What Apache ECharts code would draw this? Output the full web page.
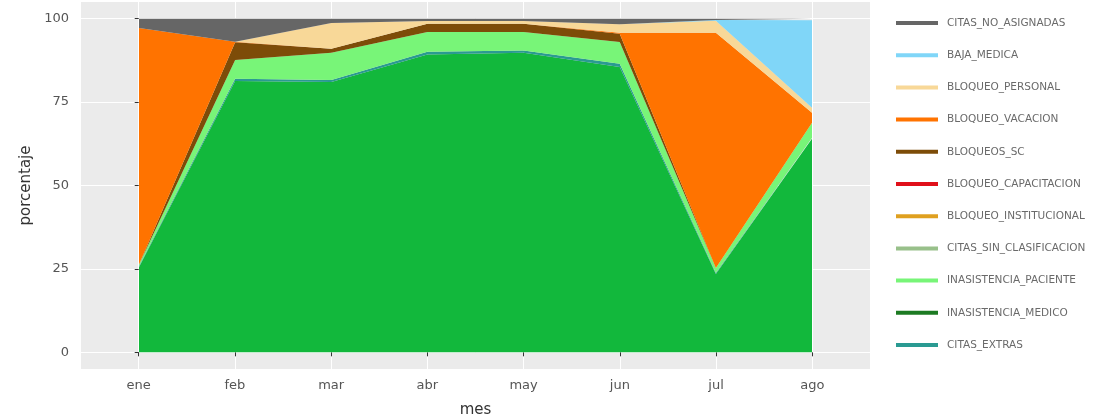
<!DOCTYPE html>
<html>
<head>
<meta charset="utf-8">
<script src="https://cdn.jsdelivr.net/npm/echarts@6/dist/echarts.min.js"></script>
<style>
  html, body { margin: 0; padding: 0; background: #fff; }
  #chart { width: 1107px; height: 418px; }
</style>
</head>
<body>
<div id="chart"></div>
<script>
const months = ['ene', 'feb', 'mar', 'abr', 'may', 'jun', 'jul', 'ago']
const yTicks = [0, 25, 50, 75, 100]

// percentages per month, bottom of the stack first
const citasAtendidas = [25.5, 81.3, 81, 89.3, 89.8, 85.5, 23.5, 64]
const citasExtras = [0.3, 0.7, 0.6, 0.8, 0.7, 1.0, 0.3, 0.3]
const inasistenciaMedico = [0, 0, 0, 0, 0, 0, 0, 0]
const inasistenciaPaciente = [0.5, 5.6, 8.2, 5.9, 5.5, 6.5, 1.5, 4.5]
const citasSinClasificacion = [0, 0, 0, 0, 0, 0, 0, 0]
const bloqueoInstitucional = [0, 0, 0, 0, 0, 0, 0, 0]
const bloqueoCapacitacion = [0, 0, 0, 0, 0, 0, 0, 0]
const bloqueosSC = [0, 5.3, 1.2, 2.5, 2.5, 2.5, 0, 0]
const bloqueoVacacion = [70.9, 0.2, 0, 0, 0, 0.3, 70.5, 3]
const bloqueoPersonal = [0, 0, 7.7, 0.8, 0.8, 2.5, 3.6, 1.5]
const bajaMedica = [0, 0, 0, 0, 0, 0, 0.2, 26.2]
const citasNoAsignadas = [2.8, 6.9, 1.3, 0.7, 0.7, 1.7, 0.4, 0.5]

const layers = [
  { name: 'CITAS_ATENDIDAS', data: citasAtendidas, color: '#12b83c' },
  { name: 'CITAS_EXTRAS', data: citasExtras, color: '#2a9a92' },
  { name: 'INASISTENCIA_MEDICO', data: inasistenciaMedico, color: '#1c7a22' },
  { name: 'INASISTENCIA_PACIENTE', data: inasistenciaPaciente, color: '#78f578' },
  { name: 'CITAS_SIN_CLASIFICACION', data: citasSinClasificacion, color: '#98c08a' },
  { name: 'BLOQUEO_INSTITUCIONAL', data: bloqueoInstitucional, color: '#dfa020' },
  { name: 'BLOQUEO_CAPACITACION', data: bloqueoCapacitacion, color: '#e0101a' },
  { name: 'BLOQUEOS_SC', data: bloqueosSC, color: '#7d4c08' },
  { name: 'BLOQUEO_VACACION', data: bloqueoVacacion, color: '#ff7300' },
  { name: 'BLOQUEO_PERSONAL', data: bloqueoPersonal, color: '#f8d898' },
  { name: 'BAJA_MEDICA', data: bajaMedica, color: '#80d6f8' },
  { name: 'CITAS_NO_ASIGNADAS', data: citasNoAsignadas, color: '#666666' }
]

const chart = echarts.init(document.getElementById('chart'))
const font = 'DejaVu Sans, sans-serif'
const tickIdx = months.map((m, i) => i)

const option = {
  backgroundColor: '#ffffff',
  animation: false,
  grid: [
    // panel with ggplot-style expansion
    {
      left: 81, right: 237, top: 2, bottom: 49,
      outerBoundsMode: 'none',
      show: true, backgroundColor: '#ebebeb', borderWidth: 0
    },
    // data area, first to last month
    { left: 139, right: 295, top: 2, bottom: 49, outerBoundsMode: 'none' }
  ],
  legend: {
    orient: 'vertical',
    left: 896,
    top: 17,
    padding: 0,
    itemWidth: 42,
    itemHeight: 4,
    itemGap: 20.2,
    icon: 'rect',
    data: layers.slice(1).map(l => l.name).reverse(),
    textStyle: {
      fontFamily: font,
      fontSize: 10.5,
      lineHeight: 12,
      color: '#6a6a6a',
      padding: [0, 0, 0, 4]
    }
  },
  xAxis: [
    {
      gridIndex: 0,
      type: 'value',
      min: -0.6,
      max: 7.6,
      name: 'mes',
      nameLocation: 'middle',
      nameGap: 34,
      nameTextStyle: { fontFamily: font, fontSize: 15, color: '#333' },
      axisLine: { show: false },
      axisTick: {
        show: true,
        length: 4,
        customValues: tickIdx,
        lineStyle: { color: '#333' }
      },
      axisLabel: {
        customValues: tickIdx,
        formatter: v => months[v],
        fontFamily: font,
        fontSize: 13,
        color: '#555',
        margin: 10
      },
      splitLine: { show: true, lineStyle: { color: '#ffffff', width: 1 } }
    },
    {
      gridIndex: 1,
      type: 'category',
      data: months,
      boundaryGap: false,
      show: false
    }
  ],
  yAxis: [
    {
      gridIndex: 0,
      type: 'value',
      min: -5,
      max: 105,
      name: 'porcentaje',
      nameLocation: 'middle',
      nameGap: 47,
      nameTextStyle: { fontFamily: font, fontSize: 15, color: '#333' },
      axisLine: { show: false },
      axisTick: {
        show: true,
        length: 4,
        customValues: yTicks,
        lineStyle: { color: '#333' }
      },
      axisLabel: {
        customValues: yTicks,
        fontFamily: font,
        fontSize: 13,
        color: '#555',
        margin: 12
      },
      splitLine: { show: true, lineStyle: { color: '#ffffff', width: 1 } }
    },
    {
      gridIndex: 1,
      type: 'value',
      min: -5,
      max: 105,
      show: false
    }
  ],
  series: layers.map(l => ({
    name: l.name,
    type: 'line',
    xAxisIndex: 1,
    yAxisIndex: 1,
    stack: 'total',
    data: l.data,
    color: l.color,
    showSymbol: false,
    symbol: 'none',
    lineStyle: { width: 0, opacity: 0 },
    areaStyle: { color: l.color, opacity: 1 }
  }))
}

chart.setOption(option)

window.addEventListener('resize', () => {
  chart?.resize()
})
</script>
</body>
</html>
